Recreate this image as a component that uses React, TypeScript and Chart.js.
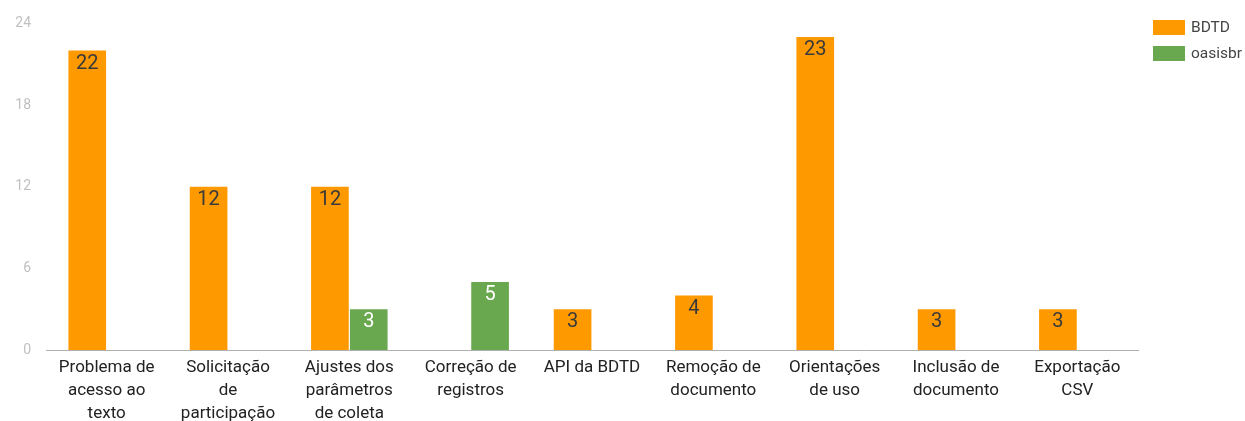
import React, { useEffect, useRef } from "react";
import { Chart, registerables } from "chart.js";

Chart.register(...registerables);

const categories: string[][] = [
  ["Problema de", "acesso ao", "texto"],
  ["Solicitação", "de", "participação"],
  ["Ajustes dos", "parâmetros", "de coleta"],
  ["Correção de", "registros"],
  ["API da BDTD"],
  ["Remoção de", "documento"],
  ["Orientações", "de uso"],
  ["Inclusão de", "documento"],
  ["Exportação", "CSV"],
];

const bdtdValues: (number | null)[] = [22, 12, 12, null, 3, 4, 23, 3, 3];
const oasisbrValues: (number | null)[] = [null, null, 3, 5, null, null, null, null, null];

const seriesNames = ["BDTD", "oasisbr"];
const seriesColors = ["#ff9900", "#6aa84f"];
const labelColors = ["#3a3a3a", "#ffffff"];

const yTicks = [0, 6, 12, 18, 24];

const FONT = "Roboto, 'Noto Sans', sans-serif";

const valueLabelPlugin = {
  id: "valueLabels",
  afterDatasetsDraw(chart: any) {
    const ctx = chart.ctx;
    ctx.save();
    ctx.font = `20px ${FONT}`;
    ctx.textAlign = "center";
    ctx.textBaseline = "middle";
    chart.data.datasets.forEach((ds: any, di: number) => {
      const meta = chart.getDatasetMeta(di);
      meta.data.forEach((el: any, i: number) => {
        const v = ds.data[i];
        if (v === null || v === undefined) return;
        ctx.fillStyle = labelColors[di];
        ctx.fillText(String(v), el.x, el.y + 13);
      });
    });
    ctx.restore();
  },
};

const legendPlugin = {
  id: "customLegend",
  afterDraw(chart: any) {
    const ctx = chart.ctx;
    ctx.save();
    ctx.font = `15.5px ${FONT}`;
    ctx.textBaseline = "middle";
    ctx.textAlign = "left";
    chart.data.datasets.forEach((ds: any, di: number) => {
      const x = 1153;
      const y = 20 + di * 26;
      ctx.fillStyle = ds.backgroundColor;
      ctx.fillRect(x, y, 32, 15);
      ctx.fillStyle = "#444444";
      ctx.fillText(ds.label, x + 38, y + 8);
    });
    ctx.restore();
  },
};

export default function App() {
  const ref = useRef<HTMLCanvasElement | null>(null);

  useEffect(() => {
    document.body.style.margin = "0";
    if (!ref.current) return;
    const chart = new Chart(ref.current, {
      type: "bar",
      data: {
        labels: categories as any,
        datasets: [
          {
            label: seriesNames[0],
            data: bdtdValues,
            backgroundColor: seriesColors[0],
            borderWidth: 0,
            categoryPercentage: 0.64,
            barPercentage: 0.97,
          },
          {
            label: seriesNames[1],
            data: oasisbrValues,
            backgroundColor: seriesColors[1],
            borderWidth: 0,
            categoryPercentage: 0.64,
            barPercentage: 0.97,
          },
        ],
      },
      options: {
        responsive: false,
        animation: false,
        layout: { padding: { top: 21, right: 107, left: 0, bottom: 0 } },
        plugins: {
          legend: { display: false },
          tooltip: { enabled: false },
        },
        scales: {
          x: {
            grid: { display: false, drawTicks: false },
            border: { display: true, color: "#b0b0b0", width: 1 },
            ticks: {
              color: "#222222",
              font: { family: FONT, size: 17, lineHeight: 1.36 },
              padding: 6,
              maxRotation: 0,
              autoSkip: false,
            },
            afterFit: (scale: any) => {
              scale.height = 71;
            },
          },
          y: {
            min: 0,
            max: 24,
            afterBuildTicks: (scale: any) => {
              scale.ticks = yTicks.map((v) => ({ value: v }));
            },
            grid: { display: false, drawTicks: false },
            border: { display: false },
            ticks: {
              color: "#c0c0c0",
              font: { family: FONT, size: 14 },
              padding: 15,
            },
            afterFit: (scale: any) => {
              scale.width = 46;
            },
          },
        },
      },
      plugins: [valueLabelPlugin, legendPlugin],
    });
    return () => chart.destroy();
  }, []);

  return (
    <div style={{ width: 1245, height: 421 }}>
      <canvas ref={ref} width={1245} height={421} style={{ display: "block" }} />
    </div>
  );
}
